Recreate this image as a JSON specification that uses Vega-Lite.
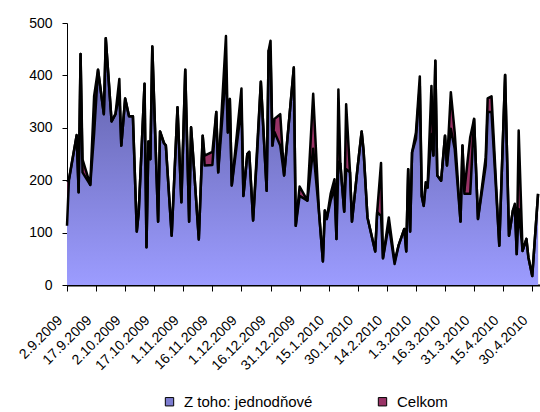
{
  "$schema": "https://vega.github.io/schema/vega-lite/v6.json",
  "width": 473,
  "height": 262,
  "autosize": {"type": "none"},
  "padding": {"left": 67, "top": 23, "right": 0, "bottom": 127},
  "background": "white",
  "config": {"view": {"stroke": null}},
  "data": {"values": [
    {"d":"2009-09-02","celkom":197,"jedno":113},
    {"d":"2009-09-03","celkom":202,"jedno":200},
    {"d":"2009-09-07","celkom":286,"jedno":286},
    {"d":"2009-09-08","celkom":177,"jedno":177},
    {"d":"2009-09-09","celkom":441,"jedno":441},
    {"d":"2009-09-10","celkom":240,"jedno":215},
    {"d":"2009-09-14","celkom":191,"jedno":191},
    {"d":"2009-09-16","celkom":361,"jedno":290},
    {"d":"2009-09-18","celkom":411,"jedno":411},
    {"d":"2009-09-21","celkom":326,"jedno":326},
    {"d":"2009-09-22","celkom":471,"jedno":471},
    {"d":"2009-09-25","celkom":312,"jedno":312},
    {"d":"2009-09-27","celkom":326,"jedno":326},
    {"d":"2009-09-29","celkom":393,"jedno":365},
    {"d":"2009-09-30","celkom":266,"jedno":266},
    {"d":"2009-10-02","celkom":356,"jedno":356},
    {"d":"2009-10-04","celkom":322,"jedno":322},
    {"d":"2009-10-06","celkom":322,"jedno":322},
    {"d":"2009-10-08","celkom":102,"jedno":102},
    {"d":"2009-10-09","celkom":139,"jedno":139},
    {"d":"2009-10-12","celkom":384,"jedno":384},
    {"d":"2009-10-13","celkom":72,"jedno":72},
    {"d":"2009-10-14","celkom":274,"jedno":274},
    {"d":"2009-10-15","celkom":240,"jedno":240},
    {"d":"2009-10-16","celkom":455,"jedno":455},
    {"d":"2009-10-19","celkom":121,"jedno":121},
    {"d":"2009-10-20","celkom":293,"jedno":293},
    {"d":"2009-10-22","celkom":271,"jedno":271},
    {"d":"2009-10-23","celkom":266,"jedno":266},
    {"d":"2009-10-26","celkom":94,"jedno":94},
    {"d":"2009-10-29","celkom":339,"jedno":339},
    {"d":"2009-10-31","celkom":158,"jedno":158},
    {"d":"2009-11-02","celkom":411,"jedno":411},
    {"d":"2009-11-04","celkom":121,"jedno":121},
    {"d":"2009-11-05","celkom":301,"jedno":301},
    {"d":"2009-11-06","celkom":250,"jedno":250},
    {"d":"2009-11-09","celkom":87,"jedno":87},
    {"d":"2009-11-11","celkom":285,"jedno":285},
    {"d":"2009-11-12","celkom":247,"jedno":228},
    {"d":"2009-11-16","celkom":254,"jedno":229},
    {"d":"2009-11-18","celkom":330,"jedno":330},
    {"d":"2009-11-19","celkom":215,"jedno":215},
    {"d":"2009-11-23","celkom":475,"jedno":410},
    {"d":"2009-11-24","celkom":291,"jedno":291},
    {"d":"2009-11-25","celkom":355,"jedno":355},
    {"d":"2009-11-26","celkom":190,"jedno":190},
    {"d":"2009-12-01","celkom":375,"jedno":340},
    {"d":"2009-12-02","celkom":170,"jedno":170},
    {"d":"2009-12-04","celkom":250,"jedno":250},
    {"d":"2009-12-05","celkom":254,"jedno":254},
    {"d":"2009-12-07","celkom":123,"jedno":123},
    {"d":"2009-12-09","celkom":256,"jedno":245},
    {"d":"2009-12-11","celkom":388,"jedno":388},
    {"d":"2009-12-14","celkom":180,"jedno":180},
    {"d":"2009-12-15","celkom":447,"jedno":447},
    {"d":"2009-12-16","celkom":466,"jedno":440},
    {"d":"2009-12-17","celkom":266,"jedno":266},
    {"d":"2009-12-18","celkom":317,"jedno":292},
    {"d":"2009-12-21","celkom":326,"jedno":266},
    {"d":"2009-12-23","celkom":209,"jedno":209},
    {"d":"2009-12-28","celkom":415,"jedno":415},
    {"d":"2009-12-29","celkom":113,"jedno":113},
    {"d":"2009-12-31","celkom":188,"jedno":170},
    {"d":"2010-01-04","celkom":161,"jedno":161},
    {"d":"2010-01-07","celkom":365,"jedno":260},
    {"d":"2010-01-10","celkom":139,"jedno":139},
    {"d":"2010-01-12","celkom":45,"jedno":45},
    {"d":"2010-01-13","celkom":142,"jedno":142},
    {"d":"2010-01-14","celkom":126,"jedno":126},
    {"d":"2010-01-16","celkom":174,"jedno":161},
    {"d":"2010-01-18","celkom":202,"jedno":185},
    {"d":"2010-01-19","celkom":88,"jedno":88},
    {"d":"2010-01-20","celkom":373,"jedno":235},
    {"d":"2010-01-21","celkom":232,"jedno":232},
    {"d":"2010-01-23","celkom":140,"jedno":140},
    {"d":"2010-01-24","celkom":345,"jedno":221},
    {"d":"2010-01-26","celkom":215,"jedno":215},
    {"d":"2010-01-27","celkom":121,"jedno":121},
    {"d":"2010-01-30","celkom":228,"jedno":228},
    {"d":"2010-02-01","celkom":293,"jedno":293},
    {"d":"2010-02-02","celkom":256,"jedno":256},
    {"d":"2010-02-04","celkom":129,"jedno":129},
    {"d":"2010-02-08","celkom":64,"jedno":64},
    {"d":"2010-02-09","celkom":139,"jedno":139},
    {"d":"2010-02-11","celkom":233,"jedno":132},
    {"d":"2010-02-12","celkom":51,"jedno":51},
    {"d":"2010-02-15","celkom":129,"jedno":115},
    {"d":"2010-02-18","celkom":45,"jedno":40},
    {"d":"2010-02-20","celkom":75,"jedno":75},
    {"d":"2010-02-23","celkom":107,"jedno":107},
    {"d":"2010-02-24","celkom":64,"jedno":64},
    {"d":"2010-02-25","celkom":221,"jedno":221},
    {"d":"2010-02-26","celkom":102,"jedno":102},
    {"d":"2010-02-27","celkom":253,"jedno":253},
    {"d":"2010-03-01","celkom":291,"jedno":279},
    {"d":"2010-03-03","celkom":398,"jedno":380},
    {"d":"2010-03-04","celkom":170,"jedno":170},
    {"d":"2010-03-05","celkom":151,"jedno":151},
    {"d":"2010-03-06","celkom":196,"jedno":188},
    {"d":"2010-03-07","celkom":186,"jedno":186},
    {"d":"2010-03-09","celkom":380,"jedno":288},
    {"d":"2010-03-10","celkom":247,"jedno":247},
    {"d":"2010-03-11","celkom":428,"jedno":428},
    {"d":"2010-03-12","celkom":209,"jedno":209},
    {"d":"2010-03-14","celkom":199,"jedno":199},
    {"d":"2010-03-16","celkom":285,"jedno":285},
    {"d":"2010-03-17","celkom":228,"jedno":228},
    {"d":"2010-03-19","celkom":368,"jedno":298},
    {"d":"2010-03-21","celkom":291,"jedno":260},
    {"d":"2010-03-24","celkom":121,"jedno":121},
    {"d":"2010-03-25","celkom":266,"jedno":266},
    {"d":"2010-03-26","celkom":180,"jedno":174},
    {"d":"2010-03-29","celkom":282,"jedno":174},
    {"d":"2010-03-31","celkom":317,"jedno":317},
    {"d":"2010-04-02","celkom":126,"jedno":126},
    {"d":"2010-04-06","celkom":244,"jedno":228},
    {"d":"2010-04-07","celkom":356,"jedno":330},
    {"d":"2010-04-09","celkom":360,"jedno":330},
    {"d":"2010-04-13","celkom":75,"jedno":75},
    {"d":"2010-04-16","celkom":401,"jedno":401},
    {"d":"2010-04-18","celkom":94,"jedno":94},
    {"d":"2010-04-20","celkom":142,"jedno":142},
    {"d":"2010-04-21","celkom":155,"jedno":150},
    {"d":"2010-04-22","celkom":59,"jedno":59},
    {"d":"2010-04-23","celkom":295,"jedno":145},
    {"d":"2010-04-25","celkom":65,"jedno":65},
    {"d":"2010-04-27","celkom":88,"jedno":88},
    {"d":"2010-04-28","celkom":53,"jedno":53},
    {"d":"2010-04-30","celkom":17,"jedno":17},
    {"d":"2010-05-03","celkom":174,"jedno":174}
  ]},
  "encoding": {
    "x": {
      "field": "d", "type": "temporal",
      "scale": {"type": "utc", "domain": [{"year": 2009, "month": 9, "date": 2, "utc": true}, {"year": 2010, "month": 5, "date": 4, "utc": true}]},
      "axis": {
        "title": null,
        "format": "%-d.%-m.%Y",
        "values": [
          {"year": 2009, "month": 9, "date": 2, "utc": true},
          {"year": 2009, "month": 9, "date": 17, "utc": true},
          {"year": 2009, "month": 10, "date": 2, "utc": true},
          {"year": 2009, "month": 10, "date": 17, "utc": true},
          {"year": 2009, "month": 11, "date": 1, "utc": true},
          {"year": 2009, "month": 11, "date": 16, "utc": true},
          {"year": 2009, "month": 12, "date": 1, "utc": true},
          {"year": 2009, "month": 12, "date": 16, "utc": true},
          {"year": 2009, "month": 12, "date": 31, "utc": true},
          {"year": 2010, "month": 1, "date": 15, "utc": true},
          {"year": 2010, "month": 1, "date": 30, "utc": true},
          {"year": 2010, "month": 2, "date": 14, "utc": true},
          {"year": 2010, "month": 3, "date": 1, "utc": true},
          {"year": 2010, "month": 3, "date": 16, "utc": true},
          {"year": 2010, "month": 3, "date": 31, "utc": true},
          {"year": 2010, "month": 4, "date": 15, "utc": true},
          {"year": 2010, "month": 4, "date": 30, "utc": true}
        ],
        "labelAngle": -45,
        "labelAlign": "right",
        "labelBaseline": "middle",
        "labelFont": "Liberation Sans",
        "labelFontSize": 14,
        "labelColor": "black",
        "labelPadding": 27,
        "labelOffset": -7,
        "labelOverlap": false,
        "labelBound": false,
        "labelFlush": false,
        "tickColor": "black",
        "tickSize": 6,
        "domainColor": "black",
        "domainWidth": 2,
        "grid": false
      }
    }
  },
  "layer": [
    {
      "mark": {"type": "area", "opacity": 1, "interpolate": "linear"},
      "encoding": {
        "y": {
          "field": "celkom", "type": "quantitative", "stack": null,
          "scale": {"domain": [0, 500], "nice": false},
          "axis": {
            "title": null,
            "values": [0, 50, 100, 150, 200, 250, 300, 350, 400, 450, 500],
            "labelFont": "Liberation Sans",
            "labelFontSize": 14,
            "labelColor": "black",
            "labelPadding": 10,
            "tickColor": "black",
            "tickSize": 5,
            "domainColor": "black",
            "grid": false
          }
        },
        "fill": {
          "datum": "Celkom",
          "scale": {
            "domain": ["Z toho: jednodňové", "Celkom"],
            "range": ["#7C7CD0", "#993366"]
          },
          "legend": {
            "title": null,
            "orient": "none",
            "legendX": 95,
            "legendY": 371,
            "direction": "horizontal",
            "symbolType": "square",
            "symbolSize": 70,
            "symbolStrokeColor": "black",
            "symbolStrokeWidth": 1,
            "symbolOpacity": 1,
            "labelFont": "Liberation Sans",
            "labelFontSize": 15,
            "labelColor": "black",
            "labelOffset": 7,
            "columnPadding": 62
          }
        }
      }
    },
    {
      "mark": {
        "type": "area", "opacity": 1, "interpolate": "linear",
        "fill": {"gradient": "linear", "x1": 0, "y1": 0, "x2": 0, "y2": 1, "stops": [{"offset": 0, "color": "#5A5AA0"}, {"offset": 1, "color": "#9C9CFF"}]}
      },
      "encoding": {
        "y": {"field": "jedno", "type": "quantitative", "stack": null}
      }
    },
    {
      "mark": {"type": "line", "color": "black", "strokeWidth": 2.5, "strokeJoin": "round"},
      "encoding": {
        "y": {"field": "celkom", "type": "quantitative", "stack": null}
      }
    },
    {
      "mark": {"type": "line", "color": "black", "strokeWidth": 2.5, "strokeJoin": "round"},
      "encoding": {
        "y": {"field": "jedno", "type": "quantitative", "stack": null}
      }
    }
  ]
}
